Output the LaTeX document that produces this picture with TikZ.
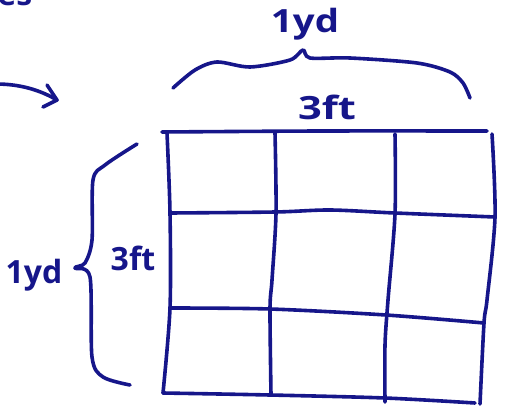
\documentclass[tikz,border=0pt]{standalone}
\usepackage{fontspec}
\setmainfont{Open Sans}
\definecolor{inkBlue}{HTML}{16168A}

\begin{document}
\begin{tikzpicture}[x=0.5pt, y=-0.5pt,
    ink/.style={draw=inkBlue, line width=1.8pt, line cap=round, line join=round},
    hand/.style={text=inkBlue, font=\fontsize{16}{18}\selectfont\bfseries, inner sep=0pt}]
            \clip (0,0) rectangle (507,406);
            % cut-off words above
            \node[hand, anchor=base west] (cutText) at (-3,6) {es};
            % arrow on the left
            \coordinate (arrowStart) at (-4,84);
            \coordinate (arrowEnd) at (57,100);
            \draw[ink] (arrowStart) .. controls (20,84) and (40,90) .. (arrowEnd);
            \draw[ink] (47,85) -- (arrowEnd) -- (43,107);
            % grid rows
            \draw[ink] plot[smooth] coordinates {(162,132) (320,131) (487,131)};
            \draw[ink] plot[smooth] coordinates {(170,213) (275,212) (330,210) (395,213) (495,217)};
            \draw[ink] plot[smooth] coordinates {(170,308) (270,309) (386,315) (484,323)};
            \draw[ink] plot[smooth] coordinates {(163,393) (270,395) (385,398) (475,403)};
            % grid columns
            \draw[ink] plot[smooth] coordinates {(167,133) (170,213) (170,308) (163,393)};
            \draw[ink] plot[smooth] coordinates {(275,133) (276,213) (272,280) (270,309) (271,395)};
            \draw[ink] plot[smooth] coordinates {(395,134) (395,214) (388,300) (385,345) (385,402)};
            \draw[ink] plot[smooth] coordinates {(492,134) (495,217) (487,300) (484,323) (480,404)};
            % top brace
            \draw[ink] plot[smooth] coordinates {(173,88) (195,70) (217,62) (250,67) (290,60) (303,50) (310,58) (350,58) (417,63) (450,72) (463,83) (470,98)};
            % side brace
            \draw[ink] plot[smooth] coordinates {(137,144) (105,165) (93,180) (92,240) (85,263) (75,268) (90,277) (92,357) (103,377) (130,385)};
            % labels
            \node[hand, xscale=1.2] (ydTop) at (305,24) {1yd};
            \node[hand, xscale=1.3] (ftTop) at (327,107) {3ft};
            \node[hand] (ftSide) at (133,258) {3ft};
            \node[hand] (ydSide) at (34,275) {1yd};
        \end{tikzpicture}
\end{document}
